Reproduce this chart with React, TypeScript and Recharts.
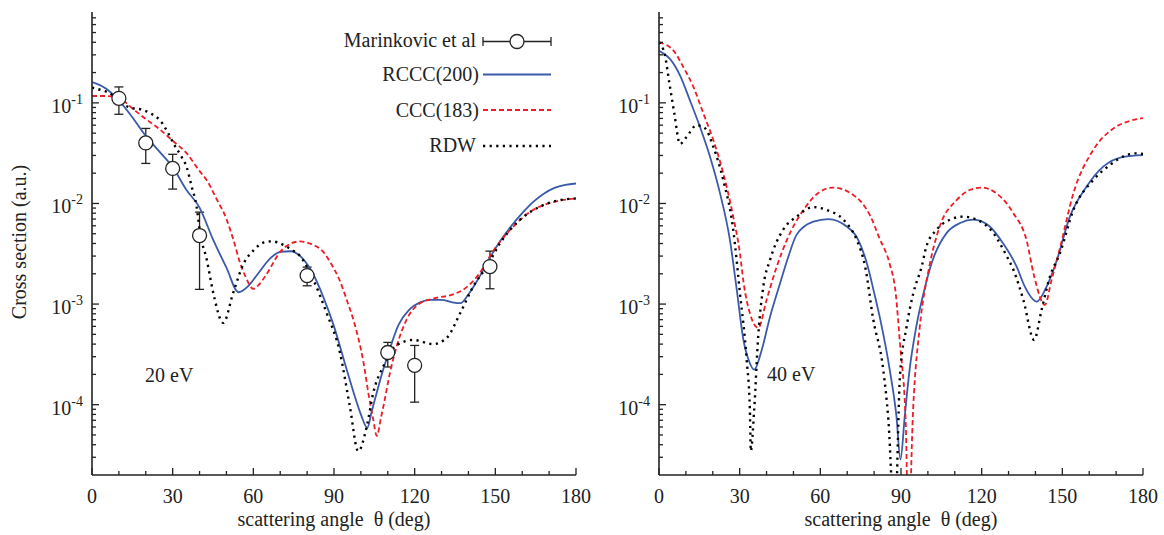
import React from 'react';
import { ComposedChart, Line, Scatter, XAxis, YAxis, ErrorBar } from 'recharts';

const FONT = '"Liberation Serif", "Times New Roman", serif';
const INK = '#222';
const BLUE = '#3a5ba9';
const RED = '#ee1c24';
const BLACK = '#000';

// axis ticks
const X_MAJOR = [0, 30, 60, 90, 120, 150, 180];
const X_MINOR = [10, 20, 40, 50, 70, 80, 100, 110, 130, 140, 160, 170];
const Y_MAJOR = [1e-4, 1e-3, 1e-2, 1e-1];
const Y_MINOR = [
  3e-5, 4e-5, 5e-5, 6e-5, 7e-5, 8e-5, 9e-5,
  2e-4, 3e-4, 4e-4, 5e-4, 6e-4, 7e-4, 8e-4, 9e-4,
  2e-3, 3e-3, 4e-3, 5e-3, 6e-3, 7e-3, 8e-3, 9e-3,
  2e-2, 3e-2, 4e-2, 5e-2, 6e-2, 7e-2, 8e-2, 9e-2,
  0.2, 0.3, 0.4, 0.5, 0.6, 0.7,
];
const Y_DOMAIN: [number, number] = [2e-5, 0.8];
const X_DOMAIN: [number, number] = [0, 180];

// ---------- 20 eV ----------
const L_RCCC_T = [0, 5, 10, 15, 20, 25, 30, 35, 40, 45, 50, 54.5, 58, 62, 66, 70, 74, 78, 82, 86, 90, 94, 98, 100, 102.4, 104, 106, 108, 110, 114, 118, 122, 126, 130, 134, 137, 140, 144, 148, 152, 156, 160, 164, 168, 172, 176, 180];
const L_RCCC_V = [0.161, 0.14, 0.106, 0.072, 0.047, 0.033, 0.023, 0.0138, 0.0091, 0.0044, 0.0023, 0.00131, 0.0015, 0.00205, 0.0028, 0.0033, 0.00335, 0.0029, 0.00205, 0.00118, 0.0006, 0.00026, 0.000115, 0.00008, 0.000059, 0.000085, 0.000135, 0.00021, 0.00031, 0.00062, 0.00088, 0.00104, 0.0011, 0.0011, 0.00104, 0.00102, 0.00125, 0.00185, 0.0029, 0.0043, 0.006, 0.008, 0.0103, 0.0125, 0.0143, 0.0153, 0.0158];

const L_CCC_T = [0, 5, 10, 15, 20, 25, 30, 35, 40, 43, 46, 50, 53, 55, 57, 60, 62, 65, 70, 74, 77.5, 81, 86, 89, 92, 95, 97.2, 101, 103, 104.6, 105.9, 107.5, 108.5, 110.8, 113.3, 117, 122, 128, 134, 139, 144, 149, 156.7, 164, 172, 180];
const L_CCC_V = [0.117, 0.117, 0.112, 0.088, 0.069, 0.055, 0.042, 0.032, 0.021, 0.0165, 0.0115, 0.007, 0.004, 0.0026, 0.0019, 0.00142, 0.00155, 0.002, 0.0033, 0.004, 0.0042, 0.004, 0.0033, 0.0025, 0.00175, 0.00105, 0.0007, 0.00026, 0.00012, 0.000071, 0.000049, 0.000075, 0.0001, 0.000207, 0.00038, 0.0007, 0.00102, 0.00115, 0.00124, 0.00145, 0.002, 0.0033, 0.0059, 0.0086, 0.0104, 0.0112];

const L_RDW_T = [0, 3, 6.7, 10.4, 14, 19, 22, 25.3, 28, 30.2, 33, 35.2, 37, 38.9, 40.2, 42.7, 45.1, 48.8, 52.5, 56.3, 60, 64, 67, 70, 74, 77.4, 82.3, 87.3, 92.2, 95.9, 99, 102.2, 104.6, 108.3, 113.3, 119.5, 126.9, 131.9, 136.9, 141.8, 146.8, 151.7, 159.2, 166.6, 174, 180];
const L_RDW_V = [0.142, 0.135, 0.124, 0.102, 0.09, 0.085, 0.078, 0.067, 0.052, 0.04, 0.03, 0.023, 0.015, 0.0093, 0.0051, 0.00275, 0.00129, 0.00065, 0.00129, 0.0025, 0.0034, 0.0041, 0.0042, 0.004, 0.0035, 0.003, 0.00174, 0.00081, 0.00033, 0.000096, 0.0000345, 0.000061, 0.000131, 0.00024, 0.00039, 0.00044, 0.0004, 0.00046, 0.00081, 0.0015, 0.00236, 0.004, 0.0069, 0.0093, 0.0108, 0.0112];

const EXP_T = [10, 20, 30, 40, 80, 110, 120, 148];
const EXP_V = [0.111, 0.04, 0.0223, 0.0048, 0.00192, 0.00033, 0.000246, 0.00236];
const EXP_LO = [0.077, 0.025, 0.0139, 0.0014, 0.00152, 0.000237, 0.000106, 0.00142];
const EXP_HI = [0.144, 0.0557, 0.0308, 0.0082, 0.00233, 0.000416, 0.000388, 0.00336];

// ---------- 40 eV ----------
const R_RCCC_T = [0, 4, 7.8, 11.5, 15.2, 19, 22.7, 26.4, 28.9, 31.4, 33.5, 35.4, 38.2, 41.3, 45, 48, 51.2, 57.4, 63, 69.8, 74, 77.2, 80, 82.3, 85.8, 88.3, 89.8, 91.4, 93.2, 95.7, 99, 101.5, 107, 112, 117, 123, 128, 133, 136, 140.5, 144.2, 147.9, 152.8, 159, 165.2, 172.7, 180];
const R_RCCC_V = [0.33, 0.275, 0.188, 0.106, 0.058, 0.029, 0.0126, 0.0043, 0.0014, 0.00044, 0.00027, 0.000223, 0.00035, 0.00075, 0.0016, 0.0029, 0.0049, 0.0066, 0.007, 0.0059, 0.0044, 0.0026, 0.0013, 0.0007, 0.000223, 0.000077, 0.0000285, 0.000077, 0.000223, 0.0006, 0.0015, 0.0026, 0.0051, 0.0064, 0.0069, 0.0059, 0.004, 0.00236, 0.0015, 0.00106, 0.0015, 0.0027, 0.0074, 0.0147, 0.0232, 0.0291, 0.0303];

const R_CCC_T = [0, 5.3, 9, 12.8, 16.5, 20.2, 23.9, 27.6, 30.1, 31.5, 33.8, 36.9, 40, 43.8, 47.5, 53.7, 59.9, 64.8, 72.3, 75, 78.6, 82, 85.8, 88, 89.6, 91.8, 92.75, 94.5, 97, 100.3, 104.4, 110.7, 115.6, 119.9, 125.5, 131.8, 136.7, 139.5, 143.5, 146, 149, 154.1, 161.5, 169, 175, 180];
const R_CCC_V = [0.4, 0.333, 0.228, 0.144, 0.0785, 0.0427, 0.02, 0.0074, 0.0032, 0.0016, 0.00081, 0.00058, 0.0011, 0.00236, 0.0043, 0.0086, 0.0131, 0.0144, 0.0121, 0.0105, 0.0075, 0.0045, 0.0025, 0.0013, 0.00041, 0.000061, 0.000005, 0.000089, 0.0006, 0.0022, 0.0059, 0.0108, 0.0136, 0.0144, 0.0126, 0.008, 0.0043, 0.0019, 0.00098, 0.00174, 0.0035, 0.0126, 0.034, 0.0557, 0.066, 0.0705];

const R_RDW_T = [0, 2.2, 3.8, 5.7, 7.8, 10.3, 14, 17.1, 20.2, 23.9, 27.6, 30.1, 32.6, 33.8, 34.15, 35.4, 36.9, 38.8, 41.3, 46.2, 51.2, 57.4, 62.4, 68.6, 73.6, 76.6, 79.7, 83.4, 85.3, 87.7, 89.6, 92.1, 94.6, 97.7, 99.4, 103.3, 108.2, 113.2, 118.2, 124.3, 129.3, 131.8, 135.5, 139.5, 142.3, 145.4, 149.1, 154.1, 161.5, 167.7, 173.9, 177.6, 180];
const R_RDW_V = [0.4, 0.297, 0.161, 0.0785, 0.039, 0.046, 0.06, 0.056, 0.0366, 0.0171, 0.0055, 0.00129, 0.00028, 0.000089, 0.0000345, 0.000089, 0.00048, 0.0015, 0.00275, 0.0055, 0.0074, 0.0092, 0.0086, 0.0069, 0.0043, 0.0024, 0.0007, 0.000223, 0.000071, 0.000006, 0.00019, 0.0006, 0.00129, 0.00236, 0.0037, 0.0055, 0.0069, 0.0074, 0.0069, 0.0051, 0.003, 0.00219, 0.0011, 0.00044, 0.00088, 0.00188, 0.0032, 0.0086, 0.0171, 0.0241, 0.0303, 0.0315, 0.031];

type Pt = { x: number; y: number };
const pts = (t: number[], v: number[]): Pt[] => t.map((x, i) => ({ x, y: v[i] }));
const expPts = EXP_T.map((x, i) => ({ x, y: EXP_V[i], err: [EXP_V[i] - EXP_LO[i], EXP_HI[i] - EXP_V[i]] }));

const X_TICKS = [...X_MAJOR, ...X_MINOR].sort((a, b) => a - b);
const Y_TICKS = [...Y_MAJOR, ...Y_MINOR].sort((a, b) => a - b);
const isMajorX = (v: number) => X_MAJOR.includes(v);
const isMajorY = (v: number) => Y_MAJOR.some((m) => Math.abs(m - v) / m < 1e-6);

const TICK_W = 1.3;
const AXIS_LINE = { stroke: INK, strokeWidth: 1.6 };

const BottomTick = (p: any) => {
  const v = p.payload.value;
  const major = isMajorX(v);
  return (
    <g>
      <line x1={p.x} y1={p.y} x2={p.x} y2={p.y - (major ? 7 : 4)} stroke={INK} strokeWidth={TICK_W} />
      {major && (
        <text x={p.x} y={p.y + 28} textAnchor="middle" fontFamily={FONT} fontSize={20} fill={INK}>
          {v}
        </text>
      )}
    </g>
  );
};
const TopTick = (p: any) => {
  const major = isMajorX(p.payload.value);
  return <line x1={p.x} y1={p.y} x2={p.x} y2={p.y + (major ? 7 : 4)} stroke={INK} strokeWidth={TICK_W} />;
};
const makeLeftTick = (gap: number) => (p: any) => {
  const v = p.payload.value;
  const major = isMajorY(v);
  const e = Math.round(Math.log10(v));
  return (
    <g>
      <line x1={p.x} y1={p.y} x2={p.x + (major ? 7 : 4)} y2={p.y} stroke={INK} strokeWidth={TICK_W} />
      {major && (
        <text x={p.x - gap} y={p.y + 10} textAnchor="end" fontFamily={FONT} fontSize={20} fill={INK}>
          <tspan>10</tspan>
          <tspan dy={-9} fontSize={14}>{`-${Math.abs(e)}`}</tspan>
        </text>
      )}
    </g>
  );
};
const RightTick = (p: any) => {
  const major = isMajorY(p.payload.value);
  return <line x1={p.x} y1={p.y} x2={p.x - (major ? 7 : 4)} y2={p.y} stroke={INK} strokeWidth={TICK_W} />;
};

const CircleShape = (p: any) => (
  <circle cx={p.cx} cy={p.cy} r={7} fill="#fff" stroke={INK} strokeWidth={1.3} />
);

type PanelProps = {
  width: number;
  yAxisWidth: number;
  rightMargin: number;
  rccc: Pt[];
  ccc: Pt[];
  rdw: Pt[];
  exp?: any[];
};

function Panel({ width, yAxisWidth, rightMargin, rccc, ccc, rdw, exp }: PanelProps) {
  const LeftTick = makeLeftTick(9);
  return (
    <ComposedChart width={width} height={535} margin={{ top: 12, right: rightMargin, bottom: 0, left: 0 }}>
      <XAxis xAxisId="x" dataKey="x" type="number" domain={X_DOMAIN} allowDataOverflow ticks={X_TICKS} interval={0}
        tickLine={false} tickSize={0} tickMargin={0} height={60} axisLine={AXIS_LINE} tick={BottomTick} />
      <XAxis xAxisId="xt" orientation="top" type="number" domain={X_DOMAIN} allowDataOverflow ticks={X_TICKS} interval={0}
        tickLine={false} tickSize={0} tickMargin={0} height={0} axisLine={AXIS_LINE} tick={TopTick} />
      <YAxis yAxisId="y" dataKey="y" type="number" scale="log" domain={Y_DOMAIN} allowDataOverflow ticks={Y_TICKS} interval={0}
        tickLine={false} tickSize={0} tickMargin={0} width={yAxisWidth} axisLine={AXIS_LINE} tick={LeftTick} />
      <YAxis yAxisId="yr" orientation="right" type="number" scale="log" domain={Y_DOMAIN} allowDataOverflow ticks={Y_TICKS} interval={0}
        tickLine={false} tickSize={0} tickMargin={0} width={0} axisLine={AXIS_LINE} tick={RightTick} />
      {exp && (
        <Scatter xAxisId="x" yAxisId="y" data={exp} dataKey="y" shape={CircleShape} isAnimationActive={false}>
          <ErrorBar dataKey="err" direction="y" width={4.5} stroke={INK} strokeWidth={1.3} isAnimationActive={false} />
        </Scatter>
      )}
      <Line xAxisId="x" yAxisId="y" data={rccc} dataKey="y" type="monotone" stroke={BLUE} strokeWidth={1.8}
        dot={false} activeDot={false} isAnimationActive={false} />
      <Line xAxisId="x" yAxisId="y" data={ccc} dataKey="y" type="monotone" stroke={RED} strokeWidth={1.8}
        strokeDasharray="5 3" dot={false} activeDot={false} isAnimationActive={false} />
      <Line xAxisId="x" yAxisId="y" data={rdw} dataKey="y" type="monotone" stroke={BLACK} strokeWidth={2.4}
        strokeDasharray="2.2 4.4" dot={false} activeDot={false} isAnimationActive={false} />
    </ComposedChart>
  );
}

const LEGEND_X_TEXT = 479;
const LEGEND_X0 = 483;
const LEGEND_X1 = 551;

function Overlay() {
  const txt = { fontFamily: FONT, fontSize: 20, fill: INK } as const;
  return (
    <svg width={1164} height={535} style={{ position: 'absolute', left: 0, top: 0, pointerEvents: 'none' }}>
      <text {...txt} x={26} y={242} transform="rotate(-90 26 242)" textAnchor="middle">Cross section (a.u.)</text>
      <text {...txt} x={334} y={526} textAnchor="middle">{'scattering angle\u00A0 θ (deg)'}</text>
      <text {...txt} x={901} y={526} textAnchor="middle">{'scattering angle\u00A0 θ (deg)'}</text>
      <text {...txt} x={145} y={382}>20 eV</text>
      <text {...txt} x={767} y={381}>40 eV</text>

      <text {...txt} x={LEGEND_X_TEXT - 3} y={47} textAnchor="end">Marinkovic et al</text>
      <line x1={LEGEND_X0} y1={41.5} x2={LEGEND_X1} y2={41.5} stroke={INK} strokeWidth={1.3} />
      <line x1={LEGEND_X0} y1={37} x2={LEGEND_X0} y2={46} stroke={INK} strokeWidth={1.3} />
      <line x1={LEGEND_X1} y1={37} x2={LEGEND_X1} y2={46} stroke={INK} strokeWidth={1.3} />
      <circle cx={517} cy={41.5} r={7} fill="#fff" stroke={INK} strokeWidth={1.3} />

      <text {...txt} x={LEGEND_X_TEXT} y={81} textAnchor="end">RCCC(200)</text>
      <line x1={LEGEND_X0} y1={74.5} x2={LEGEND_X1} y2={74.5} stroke={BLUE} strokeWidth={1.8} />

      <text {...txt} x={LEGEND_X_TEXT} y={116.5} textAnchor="end">CCC(183)</text>
      <line x1={LEGEND_X0} y1={110} x2={LEGEND_X1} y2={110} stroke={RED} strokeWidth={1.8} strokeDasharray="5 3" />

      <text {...txt} x={LEGEND_X_TEXT - 3} y={152} textAnchor="end">RDW</text>
      <line x1={LEGEND_X0} y1={146} x2={LEGEND_X1} y2={146} stroke={BLACK} strokeWidth={2.4} strokeDasharray="2.2 4.4" />
    </svg>
  );
}

export default function App() {
  return (
    <div style={{ position: 'absolute', left: 0, top: 0, width: 1164, height: 535, background: '#fff' }}>
      <div style={{ position: 'absolute', left: 0, top: 0 }}>
        <Panel width={604} yAxisWidth={92} rightMargin={28}
          rccc={pts(L_RCCC_T, L_RCCC_V)} ccc={pts(L_CCC_T, L_CCC_V)} rdw={pts(L_RDW_T, L_RDW_V)} exp={expPts} />
      </div>
      <div style={{ position: 'absolute', left: 580, top: 0 }}>
        <Panel width={584} yAxisWidth={79} rightMargin={21}
          rccc={pts(R_RCCC_T, R_RCCC_V)} ccc={pts(R_CCC_T, R_CCC_V)} rdw={pts(R_RDW_T, R_RDW_V)} />
      </div>
      <Overlay />
    </div>
  );
}
